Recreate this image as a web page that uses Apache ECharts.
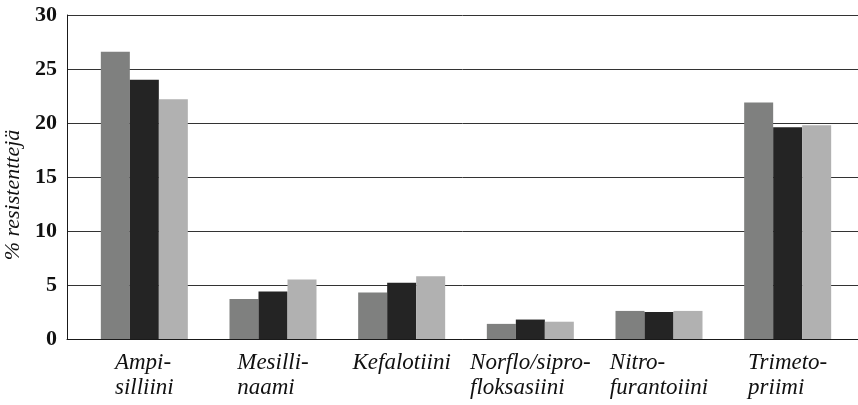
<!DOCTYPE html>
<html>
<head>
<meta charset="utf-8">
<script src="https://cdn.jsdelivr.net/npm/echarts@6/dist/echarts.min.js"></script>
<style>
html,body{margin:0;padding:0;background:#fff;}
#chart{width:858px;height:405px;}
</style>
</head>
<body>
<div id="chart"></div>
<script>
const categories = ['Ampi-\nsilliini', 'Mesilli-\nnaami', 'Kefalotiini', 'Norflo/sipro-\nfloksasiini', 'Nitro-\nfurantoiini', 'Trimeto-\npriimi'];
const series1 = [26.6, 3.7, 4.3, 1.4, 2.6, 21.9];
const series2 = [24.0, 4.4, 5.2, 1.8, 2.5, 19.6];
const series3 = [22.2, 5.5, 5.8, 1.6, 2.6, 19.8];
const yTicks = [0, 5, 10, 15, 20, 25, 30];
const yAxisName = '% resistenttejä';

const serif = 'Liberation Serif';
const chart = echarts.init(document.getElementById('chart'), null, {renderer: 'canvas'});

const option = {
  animation: false,
  backgroundColor: '#ffffff',
  textStyle: {fontFamily: serif},
  grid: [
    {left: 67, right: 0, top: 15, bottom: 66, containLabel: false, outerBoundsMode: 'none'},
    {left: 80, right: 6, top: 15, bottom: 66, containLabel: false, outerBoundsMode: 'none'}
  ],
  xAxis: [
    {
      type: 'category', gridIndex: 0, data: categories,
      axisLine: {show: true, lineStyle: {color: '#1a1a1a', width: 1}},
      axisTick: {show: false}, axisLabel: {show: false}, splitLine: {show: false}
    },
    {
      type: 'category', gridIndex: 1, data: categories,
      axisLine: {show: false}, axisTick: {show: false},
      axisLabel: {
        show: true, margin: 11, interval: 0,
        fontFamily: serif, fontStyle: 'italic', fontSize: 23, color: '#111',
        formatter: function (v) {
          return v.split('\n').map(function (s) { return '{a|' + s + '}'; }).join('\n');
        },
        rich: {
          a: {fontFamily: serif, fontStyle: 'italic', fontSize: 23, color: '#111', align: 'left', lineHeight: 25}
        }
      }
    }
  ],
  yAxis: [
    {
      type: 'value', gridIndex: 0, min: yTicks[0], max: yTicks[yTicks.length - 1], interval: 5,
      name: yAxisName, nameLocation: 'middle', nameGap: 37, nameRotate: 90,
      nameTextStyle: {fontFamily: serif, fontStyle: 'italic', fontSize: 22, color: '#111', padding: [0, 36, 0, 0]},
      axisLine: {show: true, lineStyle: {color: '#1a1a1a', width: 1}},
      axisTick: {show: false},
      axisLabel: {fontFamily: serif, fontWeight: 'bold', fontSize: 22, color: '#111', margin: 10},
      splitLine: {show: true, lineStyle: {color: '#333', width: 1}}
    },
    {
      type: 'value', gridIndex: 1, min: yTicks[0], max: yTicks[yTicks.length - 1], interval: 5,
      show: false
    }
  ],
  series: [
    {type: 'bar', xAxisIndex: 1, yAxisIndex: 1, data: series1, barWidth: 29, barGap: '0%', itemStyle: {color: '#7f807f'}},
    {type: 'bar', xAxisIndex: 1, yAxisIndex: 1, data: series2, barWidth: 29, barGap: '0%', itemStyle: {color: '#242424'}},
    {type: 'bar', xAxisIndex: 1, yAxisIndex: 1, data: series3, barWidth: 29, barGap: '0%', itemStyle: {color: '#b1b1b1'}}
  ]
};
chart.setOption(option);
</script>
</body>
</html>
